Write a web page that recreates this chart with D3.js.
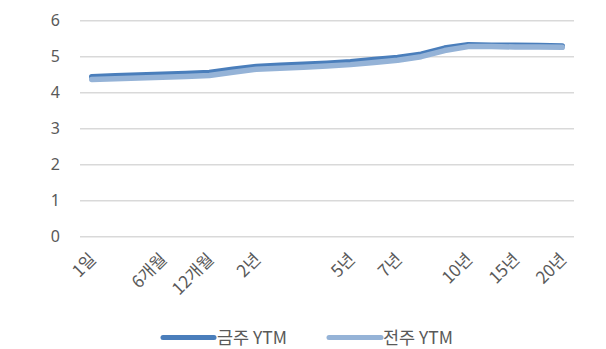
<!DOCTYPE html>
<html><head><meta charset="utf-8">
<script src="https://cdn.jsdelivr.net/npm/d3@7"></script>
<style>
html,body{margin:0;padding:0;background:#fff;}
svg{display:block;}
text{font-family:"Noto Sans CJK KR","Noto Sans",sans-serif;fill:#595959;}
</style></head>
<body>
<svg id="chart" width="606" height="349"></svg>
<script>
const categories = ["1일","","","6개월","","12개월","","2년","","","","5년","","7년","","","10년","","15년","","20년"];
const thisWeek = [4.44,4.47,4.49,4.51,4.53,4.56,4.65,4.73,4.76,4.79,4.82,4.86,4.92,4.98,5.07,5.24,5.33,5.32,5.32,5.31,5.30];
const lastWeek = [4.37,4.39,4.41,4.43,4.45,4.48,4.57,4.65,4.68,4.71,4.74,4.78,4.84,4.90,5.00,5.17,5.28,5.28,5.27,5.27,5.26];
const yTicks = [0,1,2,3,4,5,6];
const seriesNames = ["금주 YTM","전주 YTM"];
const colors = ["#4A7EBB","#95B3D7"];

const svg = d3.select("#chart");
const pL = 80, pR = 574, pT = 20.7, pB = 236.7;
const idx = categories.map((d,i)=>i);
const x = d3.scaleBand().domain(idx).range([pL,pR]);
const y = d3.scaleLinear().domain([0,6]).range([pB,pT]);
const cx = i => x(i) + x.bandwidth()/2;

// gridlines
svg.append("g").selectAll("line").data(yTicks).join("line")
  .attr("x1",pL).attr("x2",pR)
  .attr("y1",d=>y(d)).attr("y2",d=>y(d))
  .attr("stroke","#d9d9d9").attr("stroke-width",1.5);

// y axis labels
const yAxis = d3.axisLeft(y).tickValues(yTicks).tickFormat(d3.format("d")).tickSize(0).tickPadding(0);
const ga = svg.append("g").attr("transform",`translate(${pL-20},0)`).call(yAxis);
ga.select(".domain").remove();
ga.selectAll("text").attr("font-size",16).attr("fill","#595959")
  .style("font-family","'Noto Sans','Noto Sans CJK KR',sans-serif");

// x labels
svg.append("g").selectAll("text").data(idx.filter(i=>categories[i]!=="")).join("text")
  .attr("transform",i=>`translate(${cx(i)-3},${252}) rotate(-45)`)
  .attr("text-anchor","end").attr("dy","0.7em")
  .attr("font-size",17)
  .text(i=>categories[i]);

// lines
const line = d3.line().x((d,i)=>cx(i)).y(d=>y(d));
[thisWeek,lastWeek].forEach((s,k)=>{
  svg.append("path").datum(s).attr("d",line)
    .attr("fill","none").attr("stroke",colors[k]).attr("stroke-width",5.5)
    .attr("stroke-linecap","round").attr("stroke-linejoin","round");
});

// legend
const leg = [{x1:163,x2:214,tx:217},{x1:329,x2:381,tx:383}];
leg.forEach((l,k)=>{
  svg.append("line").attr("x1",l.x1).attr("x2",l.x2).attr("y1",337.5).attr("y2",337.5)
    .attr("stroke",colors[k]).attr("stroke-width",5).attr("stroke-linecap","round");
  svg.append("text").attr("x",l.tx).attr("y",338).attr("dy","0.36em")
    .attr("font-size",17.5).text(seriesNames[k]);
});
</script>
</body></html>
